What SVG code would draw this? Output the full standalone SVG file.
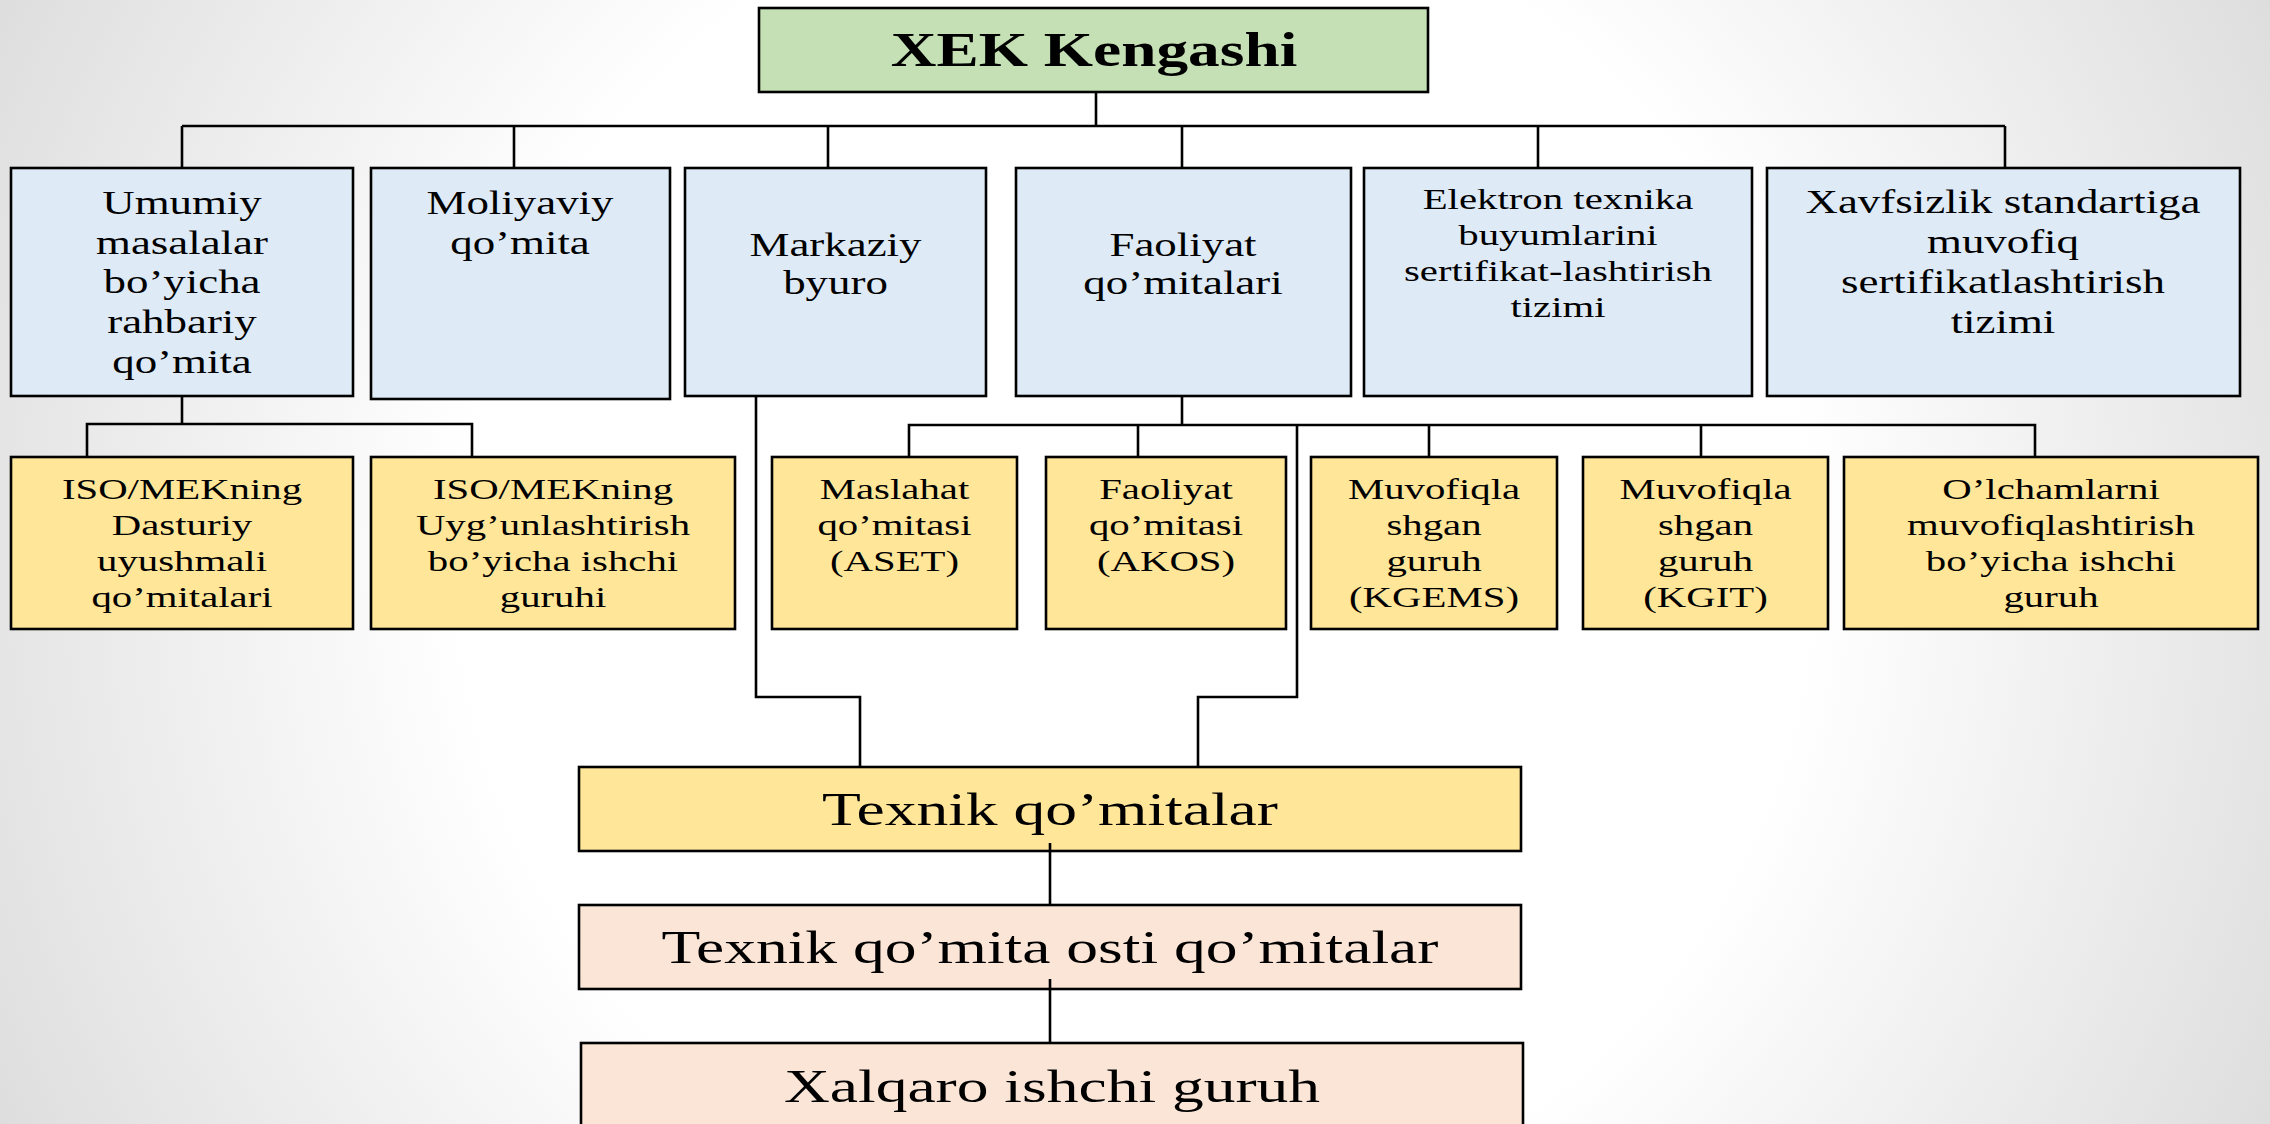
<svg xmlns="http://www.w3.org/2000/svg" width="2270" height="1124" viewBox="0 0 2270 1124">
<defs>
<radialGradient id="bg" gradientUnits="userSpaceOnUse" cx="1135" cy="560" r="1350">
<stop offset="0.5" stop-color="#ffffff"/>
<stop offset="1" stop-color="#d9d9d9"/>
</radialGradient>
</defs>
<style>
.box{stroke:#000;stroke-width:2.6}
.green{fill:#c5e0b4}
.blue{fill:#deeaf6}
.yel{fill:#ffe699}
.peach{fill:#fbe5d6}
text{font-family:"Liberation Serif","Times New Roman",serif;fill:#000;text-anchor:middle}
.l1{font-size:33px}
.l1s{font-size:30px}
.l2{font-size:30px}
.big{font-size:46.7px}
.title{font-size:48px;font-weight:bold}
.conn{fill:none;stroke:#000;stroke-width:2.6}
</style>
<rect width="2270" height="1124" fill="url(#bg)"/>

<g id="n-xek">
<rect class="box green" x="759" y="8" width="669" height="84"/>
<text class="title" transform="translate(1094 0) scale(1.32 1)" x="0" y="66">XEK Kengashi</text>
</g>

<g id="n-umumiy">
<rect class="box blue" x="11" y="168" width="342" height="228"/>
<text class="l1" transform="translate(182 0) scale(1.36 1)"><tspan x="0" y="214">Umumiy</tspan><tspan x="0" y="254">masalalar</tspan><tspan x="0" y="293">bo’yicha</tspan><tspan x="0" y="333">rahbariy</tspan><tspan x="0" y="373">qo’mita</tspan></text>
</g>

<g id="n-moliyaviy">
<rect class="box blue" x="371" y="168" width="299" height="231"/>
<text class="l1" transform="translate(520 0) scale(1.36 1)"><tspan x="0" y="214">Moliyaviy</tspan><tspan x="0" y="254">qo’mita</tspan></text>
</g>

<g id="n-markaziy">
<rect class="box blue" x="685" y="168" width="301" height="228"/>
<text class="l1" transform="translate(835.5 0) scale(1.36 1)"><tspan x="0" y="256">Markaziy</tspan><tspan x="0" y="294">byuro</tspan></text>
</g>

<g id="n-faoliyat">
<rect class="box blue" x="1016" y="168" width="335" height="228"/>
<text class="l1" transform="translate(1183 0) scale(1.36 1)"><tspan x="0" y="256">Faoliyat</tspan><tspan x="0" y="294">qo’mitalari</tspan></text>
</g>

<g id="n-elektron">
<rect class="box blue" x="1364" y="168" width="388" height="228"/>
<text class="l1s" transform="translate(1558 0) scale(1.36 1)"><tspan x="0" y="209">Elektron texnika</tspan><tspan x="0" y="245">buyumlarini</tspan><tspan x="0" y="281">sertifikat-lashtirish</tspan><tspan x="0" y="317">tizimi</tspan></text>
</g>

<g id="n-xavfsizlik">
<rect class="box blue" x="1767" y="168" width="473" height="228"/>
<text class="l1" transform="translate(2003 0) scale(1.36 1)"><tspan x="0" y="213">Xavfsizlik standartiga</tspan><tspan x="0" y="253">muvofiq</tspan><tspan x="0" y="293">sertifikatlashtirish</tspan><tspan x="0" y="333">tizimi</tspan></text>
</g>

<g id="n-iso1">
<rect class="box yel" x="11" y="457" width="342" height="172"/>
<text class="l2" transform="translate(182 0) scale(1.36 1)"><tspan x="0" y="499">ISO/MEKning</tspan><tspan x="0" y="535">Dasturiy</tspan><tspan x="0" y="571">uyushmali</tspan><tspan x="0" y="607">qo’mitalari</tspan></text>
</g>

<g id="n-iso2">
<rect class="box yel" x="371" y="457" width="364" height="172"/>
<text class="l2" transform="translate(553 0) scale(1.36 1)"><tspan x="0" y="499">ISO/MEKning</tspan><tspan x="0" y="535">Uyg’unlashtirish</tspan><tspan x="0" y="571">bo’yicha ishchi</tspan><tspan x="0" y="607">guruhi</tspan></text>
</g>

<g id="n-aset">
<rect class="box yel" x="772" y="457" width="245" height="172"/>
<text class="l2" transform="translate(894.5 0) scale(1.36 1)"><tspan x="0" y="499">Maslahat</tspan><tspan x="0" y="535">qo’mitasi</tspan><tspan x="0" y="571">(ASET)</tspan></text>
</g>

<g id="n-akos">
<rect class="box yel" x="1046" y="457" width="240" height="172"/>
<text class="l2" transform="translate(1166 0) scale(1.36 1)"><tspan x="0" y="499">Faoliyat</tspan><tspan x="0" y="535">qo’mitasi</tspan><tspan x="0" y="571">(AKOS)</tspan></text>
</g>

<g id="n-kgems">
<rect class="box yel" x="1311" y="457" width="246" height="172"/>
<text class="l2" transform="translate(1434 0) scale(1.36 1)"><tspan x="0" y="499">Muvofiqla</tspan><tspan x="0" y="535">shgan</tspan><tspan x="0" y="571">guruh</tspan><tspan x="0" y="607">(KGEMS)</tspan></text>
</g>

<g id="n-kgit">
<rect class="box yel" x="1583" y="457" width="245" height="172"/>
<text class="l2" transform="translate(1705.5 0) scale(1.36 1)"><tspan x="0" y="499">Muvofiqla</tspan><tspan x="0" y="535">shgan</tspan><tspan x="0" y="571">guruh</tspan><tspan x="0" y="607">(KGIT)</tspan></text>
</g>

<g id="n-olcham">
<rect class="box yel" x="1844" y="457" width="414" height="172"/>
<text class="l2" transform="translate(2051 0) scale(1.36 1)"><tspan x="0" y="499">O’lchamlarni</tspan><tspan x="0" y="535">muvofiqlashtirish</tspan><tspan x="0" y="571">bo’yicha ishchi</tspan><tspan x="0" y="607">guruh</tspan></text>
</g>

<g id="n-texnik">
<rect class="box yel" x="579" y="767" width="942" height="84"/>
<text class="big" transform="translate(1050 0) scale(1.36 1)" x="0" y="825">Texnik qo’mitalar</text>
</g>

<g id="n-osti">
<rect class="box peach" x="579" y="905" width="942" height="84"/>
<text class="big" transform="translate(1050 0) scale(1.36 1)" x="0" y="963">Texnik qo’mita osti qo’mitalar</text>
</g>

<g id="n-xalqaro">
<rect class="box peach" x="581" y="1043" width="942" height="100"/>
<text class="big" transform="translate(1052 0) scale(1.36 1)" x="0" y="1102">Xalqaro ishchi guruh</text>
</g>

<g id="connectors">
<path class="conn" d="M1096 92V126"/>
<path class="conn" d="M182 126H2005"/>
<path class="conn" d="M182 126V168M514 126V168M828 126V168M1182 126V168M1538 126V168M2005 126V168"/>
<path class="conn" d="M182 396V424"/>
<path class="conn" d="M87 457V424H472V457"/>
<path class="conn" d="M756 396V697H860V767"/>
<path class="conn" d="M1182 396V425"/>
<path class="conn" d="M909 457V425H2035V457"/>
<path class="conn" d="M1138 425V457M1429 425V457M1701 425V457"/>
<path class="conn" d="M1297 425V697H1198V767"/>
<path class="conn" d="M1050 843V905"/>
<path class="conn" d="M1050 979V1043"/>
</g>
</svg>
